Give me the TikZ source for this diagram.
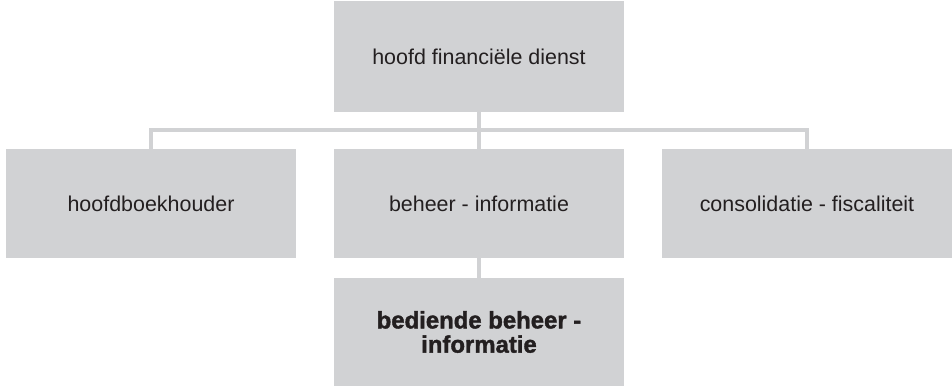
\documentclass[tikz,border=0pt]{standalone}
\usepackage{fontspec}
\setmainfont{Liberation Sans}
\newfontfamily\heavyfont[BoldFeatures={FakeBold=1.6}]{Liberation Sans}
\usetikzlibrary{positioning}
\definecolor{color_box}{HTML}{D1D2D4}
\definecolor{color_line}{HTML}{D1D2D4}
\definecolor{color_text}{HTML}{231F20}
\tikzset{
  org_box/.style={fill=color_box, inner sep=0pt, minimum width=5.8cm, minimum height=2.18cm, text=color_text, font=\fontsize{12.2}{14}\selectfont, align=center},
  org_box_bold/.style={org_box, font=\heavyfont\fontsize{13.6}{13.8}\selectfont\bfseries},
  org_line/.style={draw=color_line, line width=2.2pt},
}
\begin{document}
\begin{tikzpicture}
    \useasboundingbox (0,0) rectangle (19.04,-7.72);
    \node[org_box, minimum height=2.22cm] (hoofd) at (9.58,-1.13) {hoofd financiële dienst};
    \node[org_box] (boekh) at (3.02,-4.07) {hoofdboekhouder};
    \node[org_box] (beheer) at (9.58,-4.07) {beheer - informatie};
    \node[org_box] (consol) at (16.14,-4.07) {consolidatie - fiscaliteit};
    \node[org_box_bold, minimum height=2.16cm] (bediende) at (9.58,-6.64) {bediende beheer -\\informatie};
    % the branch point under the head
    \coordinate (split) at (9.58,-2.6);
    \begin{scope}[on background layer/.try]
      \draw[org_line] (hoofd.south) -- (beheer.north);
      \draw[org_line] (boekh.north) |- (split) -| (consol.north);
      \draw[org_line] (beheer.south) -- (bediende.north);
    \end{scope}
  \end{tikzpicture}
\end{document}
